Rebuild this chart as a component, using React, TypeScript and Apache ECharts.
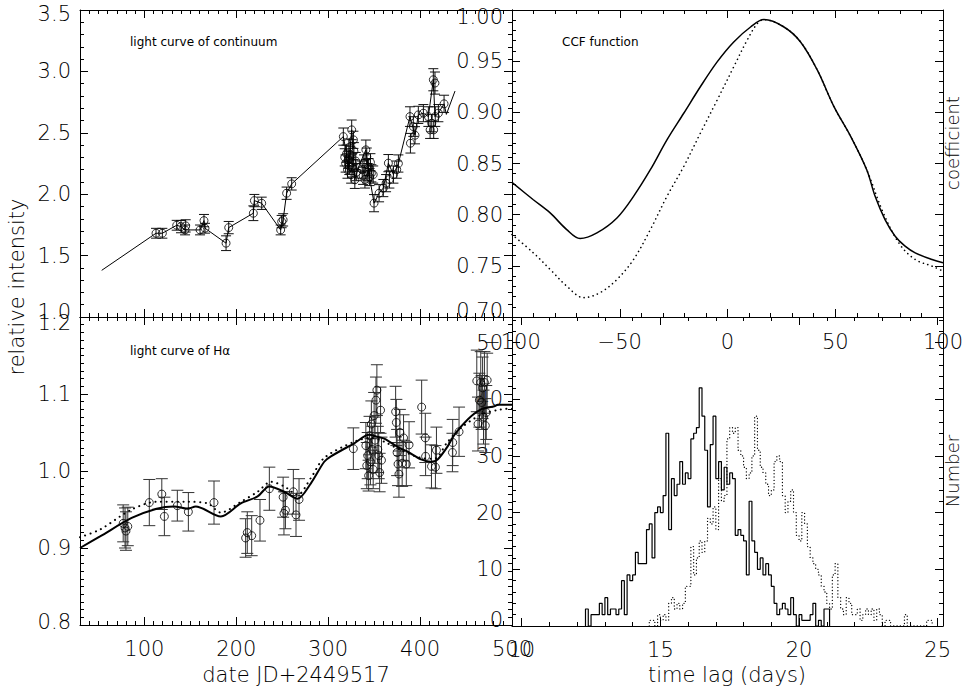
import React, { useEffect, useRef } from "react";
import * as echarts from "echarts";

// ---------------- data ----------------
// light curve of continuum: [date, relative intensity, error]
const continuumPoints: number[][] = [
  [112.7, 1.682, 0.04], [119.6, 1.682, 0.04], [135.2, 1.747, 0.04], [139.9, 1.736, 0.05], [144.3, 1.709, 0.04],
  [145.0, 1.742, 0.05], [160.6, 1.709, 0.04], [164.9, 1.785, 0.05], [166.0, 1.723, 0.04], [188.9, 1.601, 0.06],
  [191.8, 1.728, 0.05], [218.6, 1.845, 0.06], [219.7, 1.948, 0.05], [227.7, 1.926, 0.05], [248.3, 1.709, 0.04],
  [249.4, 1.777, 0.05], [251.0, 1.791, 0.05], [254.8, 2.008, 0.05], [260.3, 2.084, 0.05],
  [316.5, 2.469, 0.07], [318.0, 2.30, 0.07], [319.0, 2.25, 0.07], [320.0, 2.33, 0.07], [321.0, 2.20, 0.07],
  [322.0, 2.28, 0.07], [322.5, 2.38, 0.07], [323.0, 2.23, 0.07], [324.0, 2.32, 0.07], [325.0, 2.16, 0.07],
  [325.6, 2.524, 0.08], [326.0, 2.26, 0.07], [327.0, 2.21, 0.07], [327.5, 2.443, 0.07], [328.0, 2.35, 0.07],
  [329.0, 2.117, 0.07], [330.0, 2.27, 0.07], [331.0, 2.18, 0.07],
  [337.0, 2.20, 0.07], [338.0, 2.15, 0.07], [339.0, 2.25, 0.07], [340.0, 2.12, 0.07], [341.0, 2.361, 0.08],
  [342.0, 2.306, 0.07], [343.0, 2.18, 0.07], [344.0, 2.22, 0.07], [345.0, 2.14, 0.07], [346.0, 2.26, 0.07],
  [347.0, 2.17, 0.07], [349.0, 2.16, 0.07], [349.9, 1.927, 0.07], [355.4, 2.008, 0.07], [360.0, 2.05, 0.07],
  [363.0, 2.09, 0.07], [365.5, 2.253, 0.07], [366.6, 2.12, 0.07], [371.0, 2.16, 0.07], [374.6, 2.20, 0.07],
  [376.4, 2.25, 0.07],
  [389.0, 2.632, 0.08], [389.5, 2.415, 0.08], [392.6, 2.551, 0.08], [394.5, 2.48, 0.07], [398.1, 2.646, 0.07],
  [403.6, 2.66, 0.07], [409.0, 2.632, 0.08], [410.9, 2.524, 0.07], [412.7, 2.578, 0.07], [414.4, 2.932, 0.09],
  [414.8, 2.524, 0.07], [416.2, 2.905, 0.09], [416.5, 2.632, 0.08], [419.9, 2.66, 0.07], [426.1, 2.736, 0.07],
];

const continuumLine: number[][] = [
  [53.6, 1.38], [112.7, 1.682], [119.6, 1.682], [135.2, 1.747], [139.9, 1.736], [144.3, 1.709], [160.6, 1.709],
  [164.9, 1.785], [166.0, 1.723], [188.9, 1.601], [191.8, 1.728], [218.6, 1.845], [219.7, 1.948], [227.7, 1.926],
  [248.3, 1.709], [251.0, 1.791], [254.8, 2.008], [260.3, 2.084], [316.5, 2.469], [320.0, 2.33], [322.0, 2.20],
  [325.6, 2.524], [329.0, 2.117], [333.0, 2.22], [341.0, 2.361], [345.0, 2.14], [349.9, 1.927], [355.4, 2.008],
  [360.0, 2.05], [365.5, 2.253], [371.0, 2.16], [376.4, 2.25], [389.0, 2.632], [394.5, 2.48], [398.1, 2.646],
  [403.6, 2.66], [409.0, 2.632], [414.4, 2.932], [416.2, 2.632], [419.9, 2.66], [426.1, 2.736], [428.6, 2.65],
  [438.0, 2.84],
];

// light curve of H-alpha: [date, relative intensity, error]
const halphaPoints: number[][] = [
  [77.0, 0.932, 0.024], [79.0, 0.926, 0.026], [80.0, 0.922, 0.025], [82.0, 0.928, 0.025],
  [105.4, 0.959, 0.030], [119.0, 0.970, 0.020], [121.8, 0.941, 0.025], [135.9, 0.955, 0.020],
  [147.9, 0.947, 0.025], [175.8, 0.959, 0.028], [210.2, 0.913, 0.025], [212.0, 0.920, 0.027],
  [216.8, 0.916, 0.026], [225.8, 0.936, 0.027], [236.0, 0.977, 0.028], [251.0, 0.966, 0.026],
  [251.9, 0.945, 0.028], [253.5, 0.949, 0.024], [262.1, 0.973, 0.029], [265.0, 0.943, 0.028],
  [268.3, 0.963, 0.027], [327.4, 1.029, 0.027],
  [341.0, 1.033, 0.030], [342.0, 1.007, 0.030], [343.0, 1.020, 0.030], [344.0, 0.994, 0.020],
  [345.0, 1.046, 0.025], [346.0, 1.012, 0.030], [347.0, 1.061, 0.030], [348.0, 1.028, 0.030],
  [349.0, 1.002, 0.025], [350.0, 1.072, 0.030], [351.0, 1.040, 0.030], [352.0, 1.092, 0.030],
  [353.0, 1.105, 0.033], [354.0, 1.028, 0.030], [355.0, 1.020, 0.030], [356.0, 0.998, 0.025],
  [357.0, 1.079, 0.030], [358.0, 1.014, 0.030],
  [373.4, 1.077, 0.033], [374.2, 1.063, 0.030], [375.0, 1.024, 0.030], [376.0, 1.009, 0.028],
  [377.0, 0.996, 0.030], [378.0, 1.050, 0.030], [380.5, 1.010, 0.030], [382.0, 1.043, 0.030],
  [385.0, 1.009, 0.028], [388.0, 1.034, 0.030],
  [401.7, 1.083, 0.035], [405.7, 1.043, 0.032], [406.0, 1.019, 0.025], [412.4, 1.006, 0.028],
  [416.7, 1.005, 0.028], [417.8, 1.027, 0.030], [435.2, 1.024, 0.025], [435.5, 1.037, 0.030],
  [442.4, 1.051, 0.032],
  [461.7, 1.117, 0.040], [463.0, 1.061, 0.035], [464.5, 1.092, 0.035], [466.0, 1.115, 0.040],
  [467.0, 1.089, 0.035], [468.0, 1.108, 0.040], [469.0, 1.070, 0.035], [470.0, 1.115, 0.040],
  [471.0, 1.059, 0.035], [472.0, 1.076, 0.035], [473.0, 1.118, 0.035],
];

const halphaSolid: number[][] = [
  [30, 0.900], [51.8, 0.915], [86.2, 0.939], [113.4, 0.951], [132.3, 0.954], [146.9, 0.951], [156, 0.954],
  [183.2, 0.941], [205, 0.958], [223.2, 0.967], [235.9, 0.980], [252.2, 0.973], [266.7, 0.964], [281.2, 0.984],
  [295.7, 1.012], [303, 1.019], [328.4, 1.036], [344.7, 1.047], [352, 1.045], [361, 1.042], [377.4, 1.030],
  [386.5, 1.025], [401, 1.015], [411.9, 1.012], [419.1, 1.015], [430, 1.032], [437.3, 1.047], [451.8, 1.067],
  [466.3, 1.080], [480.8, 1.084], [484.4, 1.086], [500, 1.086],
];

const halphaDotted: number[][] = [
  [30, 0.914], [51.8, 0.924], [86.2, 0.950], [113.4, 0.960], [146.9, 0.960], [168.7, 0.958], [183.2, 0.946],
  [205, 0.960], [223.2, 0.973], [237.7, 0.986], [252.2, 0.980], [266.7, 0.969], [281.2, 0.991], [295.7, 1.017],
  [328.4, 1.038], [346.5, 1.043], [361, 1.038], [377.4, 1.028], [401, 1.017], [415.5, 1.016], [430, 1.038],
  [444.5, 1.056], [466.3, 1.073], [488, 1.080], [500, 1.081],
];

// CCF function: [lag, coefficient]
const ccfSolid: number[][] = [
  [-100, 0.8315], [-90.1, 0.8146], [-82.3, 0.8017], [-74.6, 0.7854], [-68.4, 0.7767], [-60.6, 0.7822],
  [-51.3, 0.7968], [-43.6, 0.8179], [-35.8, 0.8439], [-28.1, 0.8731], [-20.3, 0.8991], [-12.6, 0.925],
  [-4.8, 0.9493], [2.9, 0.9688], [10.7, 0.9834], [16.9, 0.9906], [26.2, 0.9834], [33.9, 0.9688],
  [41.7, 0.9412], [49.4, 0.9055], [57.2, 0.8763], [64.6, 0.8439], [68.5, 0.8179], [73.1, 0.7952],
  [77.8, 0.7789], [82.4, 0.7692], [87.1, 0.7627], [94.9, 0.7562], [100, 0.753],
];

const ccfDotted: number[][] = [
  [-100, 0.7806], [-90.1, 0.7627], [-82.3, 0.7465], [-74.6, 0.7302], [-66.8, 0.7189], [-59.1, 0.7238],
  [-51.3, 0.7367], [-43.6, 0.7562], [-35.8, 0.7854], [-28.1, 0.8179], [-20.3, 0.8471], [-12.6, 0.8796],
  [-4.8, 0.912], [2.9, 0.9445], [9.1, 0.9705], [13.8, 0.9867], [16.9, 0.9906], [26.2, 0.9834],
  [33.9, 0.9688], [41.7, 0.9412], [49.4, 0.9055], [57.2, 0.8763], [64.6, 0.8439], [72.3, 0.8017],
  [80.0, 0.7708], [87.1, 0.7562], [94.9, 0.7497], [100, 0.7448],
];

// time-lag histograms (0.1 day bins)
const histBinWidth = 0.1;
const histSolidStart = 12.3;
const histSolidCounts = [
  3, 0, 2, 2, 2, 4, 2, 5, 2, 3, 3, 2, 3, 8, 2, 9, 8, 9, 13, 11,
  11, 11, 17, 18, 12, 20, 21, 20, 23, 34, 17, 26, 23, 25, 29, 25, 27, 26, 33, 34,
  35, 42, 37, 31, 21, 32, 37, 26, 29, 24, 28, 25, 27, 26, 16, 17, 16, 15, 9, 22,
  15, 13, 10, 12, 9, 11, 9, 7, 4, 2, 3, 4, 3, 2, 5, 2, 0, 2, 1, 1,
  1, 2, 4, 0, 1, 0, 3, 3,
];
const histDottedStart = 14.6;
const histDottedCounts = [
  1, 1, 0, 2, 1, 2, 1, 4, 5, 3, 4, 3, 4, 7, 7, 14, 9, 12, 15, 13,
  15, 19, 18, 21, 17, 26, 22, 23, 33, 35, 34, 35, 31, 30, 28, 26, 27, 30, 37, 31,
  28, 27, 25, 23, 24, 29, 30, 29, 23, 20, 22, 24, 20, 16, 15, 20, 18, 14, 12, 11,
  10, 9, 7, 6, 4, 3, 9, 11, 5, 3, 2, 5, 4, 2, 2, 3, 1, 2, 3, 2,
  3, 1, 3, 2, 0, 1, 1, 0, 0, 0, 0, 0, 2, 0, 0, 0, 0, 0, 0, 0,
  1, 1,
];

// tick labels
const contYTicks = [1.0, 1.5, 2.0, 2.5, 3.0, 3.5];
const dateTicks = [100, 200, 300, 400, 500];
const haYTicks = [0.8, 0.9, 1.0, 1.1, 1.2];
const ccfXTicks = [-100, -50, 0, 50, 100];
const ccfYTicks = [0.7, 0.75, 0.8, 0.85, 0.9, 0.95, 1.0];
const lagXTicks = [10, 15, 20, 25];
const numYTicks = [0, 10, 20, 30, 40, 50];

// ---------------- helpers ----------------
const FONT = "DejaVu Sans";
const LABEL_SIZE = 21;
const LABEL_WEIGHT = 200;
const INK = "#000";

function tickRange(start: number, end: number, step: number): number[] {
  const out: number[] = [];
  const n = Math.round((end - start) / step);
  for (let i = 0; i <= n; i++) out.push(+(start + i * step).toFixed(6));
  return out;
}

const labelBase = { fontFamily: FONT, fontSize: LABEL_SIZE, fontWeight: LABEL_WEIGHT, color: INK };

function yLabel(values: number[], digits: number, downTop: number, upBottom: number) {
  const first = values[0];
  const last = values[values.length - 1];
  return {
    show: true,
    customValues: values,
    margin: 9,
    ...labelBase,
    formatter: (v: number) => {
      const t = v.toFixed(digits);
      if (Math.abs(v - last) < 1e-9 && downTop) return `{hi|${t}}`;
      if (Math.abs(v - first) < 1e-9 && upBottom) return `{lo|${t}}`;
      return t;
    },
    rich: {
      hi: { ...labelBase, padding: [2 * downTop, 0, 0, 0] },
      lo: { ...labelBase, padding: [0, 0, 2 * upBottom, 0] },
    },
  };
}

function xLabel(values: number[], margin: number) {
  return {
    show: true,
    customValues: values,
    margin,
    ...labelBase,
    formatter: (v: number) => (v < 0 ? "\u2212" + String(-v) : String(v)),
  };
}

function oneAxis(gridIndex: number, position: string, min: number, max: number, ticks: number[], len: number, line: boolean, label: any) {
  return {
    type: "value",
    gridIndex,
    position,
    min,
    max,
    axisLine: { show: line, onZero: false, lineStyle: { color: INK, width: 1 } },
    axisTick: { show: true, inside: true, length: len, customValues: ticks, lineStyle: { color: INK, width: 1 } },
    axisLabel: label ? label : { show: false },
    splitLine: { show: false },
    minorTick: { show: false },
    axisPointer: { show: false },
  };
}

function axisSet(dim: "x" | "y", gridIndex: number, min: number, max: number, majors: number[], minors: number[], label: any) {
  const a = dim === "x" ? "bottom" : "left";
  const b = dim === "x" ? "top" : "right";
  return [
    oneAxis(gridIndex, a, min, max, majors, 8, true, label),
    oneAxis(gridIndex, a, min, max, minors, 4, false, null),
    oneAxis(gridIndex, b, min, max, majors, 8, true, null),
    oneAxis(gridIndex, b, min, max, minors, 4, false, null),
  ];
}

function errorBars(points: number[][], gi: number, cap: number, color: string) {
  return {
    type: "custom",
    xAxisIndex: gi * 4,
    yAxisIndex: gi * 4,
    data: points.map((p) => [p[0], p[1] - p[2], p[1] + p[2]]),
    encode: { x: 0, y: [1, 2] },
    renderItem: (_params: any, api: any) => {
      const lo = api.coord([api.value(0), api.value(1)]);
      const hi = api.coord([api.value(0), api.value(2)]);
      const st = { stroke: color, lineWidth: 1 };
      return {
        type: "group",
        children: [
          { type: "line", shape: { x1: lo[0], y1: lo[1], x2: hi[0], y2: hi[1] }, style: st },
          { type: "line", shape: { x1: lo[0] - cap, y1: lo[1], x2: lo[0] + cap, y2: lo[1] }, style: st },
          { type: "line", shape: { x1: hi[0] - cap, y1: hi[1], x2: hi[0] + cap, y2: hi[1] }, style: st },
        ],
      };
    },
    z: 2,
  };
}

function circles(points: number[][], gi: number) {
  return {
    type: "scatter",
    xAxisIndex: gi * 4,
    yAxisIndex: gi * 4,
    data: points.map((p) => [p[0], p[1]]),
    symbol: "circle",
    symbolSize: 8,
    itemStyle: { color: "rgba(0,0,0,0)", borderColor: INK, borderWidth: 1 },
    z: 3,
  };
}

function histSteps(start: number, width: number, counts: number[]) {
  const pts: number[][] = [[start, 0]];
  counts.forEach((c, i) => pts.push([start + i * width, c]));
  pts.push([start + counts.length * width, 0]);
  return pts;
}

function line(data: number[][], gi: number, width: number, dots: number[] | null, smooth: number | boolean, step?: string) {
  return {
    type: "line",
    xAxisIndex: gi * 4,
    yAxisIndex: gi * 4,
    data,
    showSymbol: false,
    symbol: "none",
    smooth,
    step: step || false,
    lineStyle: { color: INK, width, type: dots ? dots : "solid", cap: dots ? "round" : "butt" },
    z: 4,
  };
}

export default function App() {
  const ref = useRef<HTMLDivElement>(null);

  useEffect(() => {
    if (!ref.current) return;
    const chart = echarts.init(ref.current, null, { renderer: "svg" });

    const grids = [
      { left: 80, top: 10, width: 432, height: 307 },
      { left: 512, top: 10, width: 431, height: 307 },
      { left: 80, top: 317, width: 432, height: 308 },
      { left: 512, top: 317, width: 431, height: 309 },
    ].map((g) => ({ ...g, containLabel: false, outerBoundsMode: "none", show: false }));

    const xAxis = [
      ...axisSet("x", 0, 30, 500, dateTicks, tickRange(30, 500, 10), null),
      ...axisSet("x", 1, -100, 100, ccfXTicks, tickRange(-100, 100, 10), xLabel(ccfXTicks, 14)),
      ...axisSet("x", 2, 30, 500, dateTicks, tickRange(30, 500, 10), xLabel(dateTicks, 13)),
      ...axisSet("x", 3, 9.65, 25.19, lagXTicks, tickRange(10, 25, 1), xLabel(lagXTicks, 13)),
    ];
    const yAxis = [
      ...axisSet("y", 0, 1.0, 3.5, contYTicks, tickRange(1.0, 3.5, 0.1), yLabel(contYTicks, 1, 4, 5)),
      ...axisSet("y", 1, 0.7, 1.0, ccfYTicks, tickRange(0.7, 1.0, 0.01), yLabel(ccfYTicks, 2, 7, 6)),
      ...axisSet("y", 2, 0.8, 1.2, haYTicks, tickRange(0.8, 1.2, 0.01), yLabel(haYTicks, 1, 6, 3)),
      ...axisSet("y", 3, 0, 54.5, numYTicks, tickRange(0, 54, 2), yLabel(numYTicks, 0, 0, 6)),
    ];

    const series = [
      errorBars(continuumPoints, 0, 5, "#111"),
      circles(continuumPoints, 0),
      line(continuumLine, 0, 1, null, false),
      line(ccfSolid, 1, 1.5, null, 0.35),
      line(ccfDotted, 1, 1.6, [0.1, 4.5], 0.35),
      errorBars(halphaPoints, 2, 6, "#333"),
      circles(halphaPoints, 2),
      line(halphaSolid, 2, 2, null, 0.3),
      line(halphaDotted, 2, 2, [0.1, 5.5], 0.3),
      line(histSteps(histSolidStart, histBinWidth, histSolidCounts), 3, 1.2, null, false, "end"),
      line(histSteps(histDottedStart, histBinWidth, histDottedCounts), 3, 1.3, [0.1, 3.2], false, "end"),
    ];

    const titleFont = { fontFamily: FONT, fontSize: 21, fontWeight: LABEL_WEIGHT, fill: INK };
    const sideFont = { fontFamily: FONT, fontSize: 18, fontWeight: LABEL_WEIGHT, fill: INK };
    const smallFont = { fontFamily: FONT, fontSize: 12, fill: INK };
    const graphic = [
      { type: "text", x: 17, y: 287, rotation: Math.PI / 2, style: { ...titleFont, text: "relative intensity", align: "center", verticalAlign: "middle" } },
      { type: "text", x: 296, y: 675, style: { ...titleFont, text: "date JD+2449517", align: "center", verticalAlign: "middle" } },
      { type: "text", x: 727, y: 675, style: { ...titleFont, text: "time lag (days)", align: "center", verticalAlign: "middle" } },
      { type: "text", x: 952, y: 143, rotation: Math.PI / 2, style: { ...sideFont, text: "coefficient", align: "center", verticalAlign: "middle" } },
      { type: "text", x: 952, y: 471, rotation: Math.PI / 2, style: { ...sideFont, text: "Number", align: "center", verticalAlign: "middle" } },
      { type: "text", x: 130, y: 42, style: { ...smallFont, text: "light curve of continuum", align: "left", verticalAlign: "middle" } },
      { type: "text", x: 562, y: 42, style: { ...smallFont, text: "CCF function", align: "left", verticalAlign: "middle" } },
      { type: "text", x: 130, y: 351, style: { ...smallFont, text: "light curve of H\u03b1", align: "left", verticalAlign: "middle" } },
    ];

    chart.setOption({
      animation: false,
      backgroundColor: "#fff",
      textStyle: { fontFamily: FONT },
      grid: grids,
      xAxis,
      yAxis,
      series,
      graphic,
    });

    return () => chart.dispose();
  }, []);

  return <div ref={ref} style={{ position: "fixed", left: 0, top: 0, width: 963, height: 688 }} />;
}
